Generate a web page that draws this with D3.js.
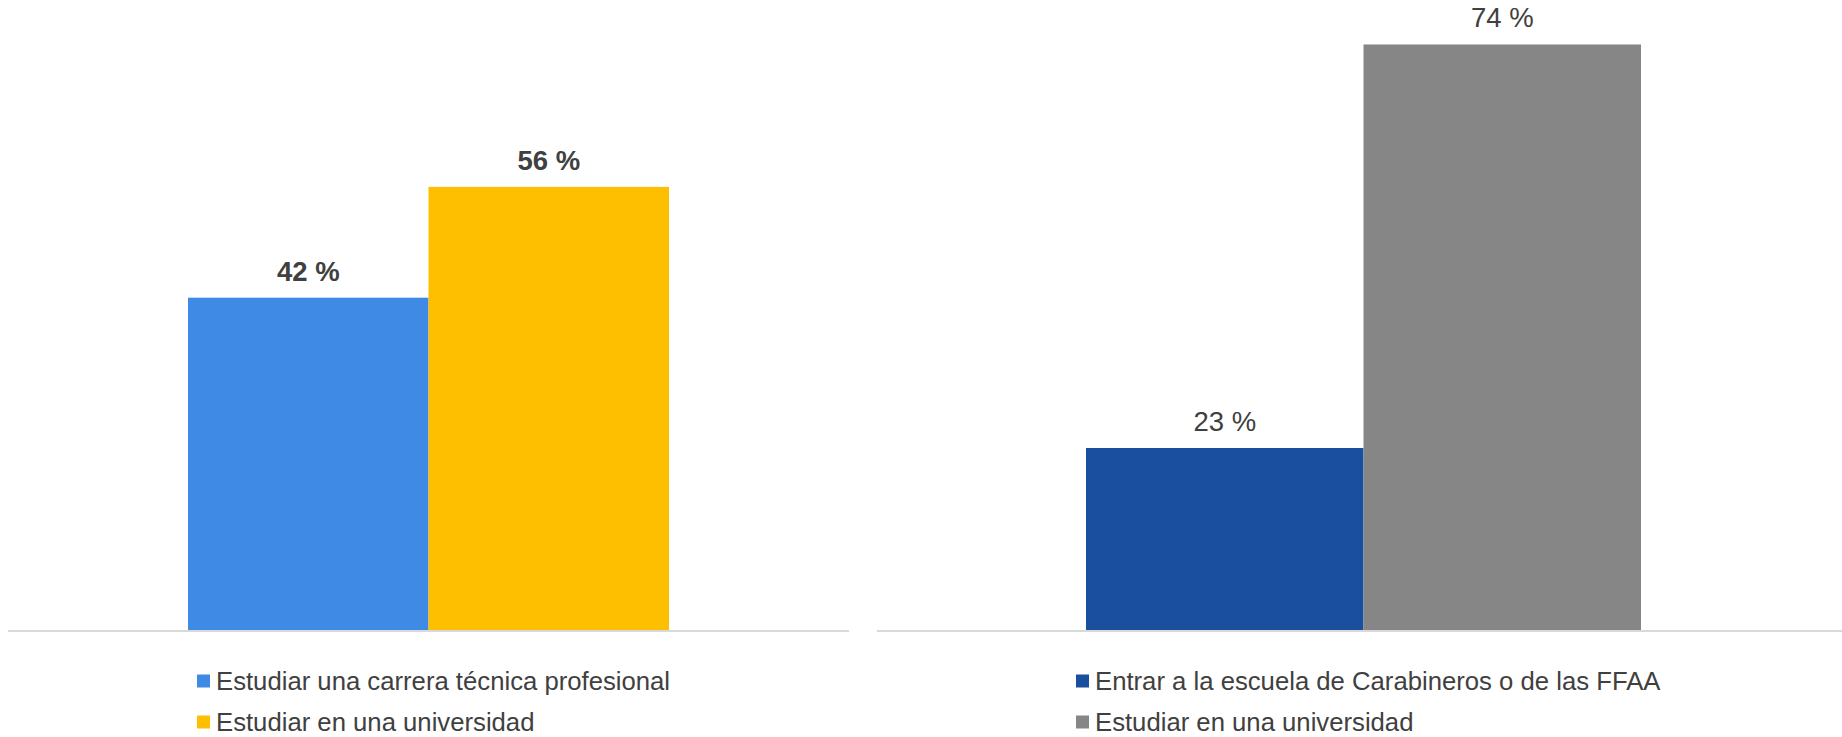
<!DOCTYPE html>
<html>
<head>
<meta charset="utf-8">
<script src="https://cdn.jsdelivr.net/npm/d3@7"></script>
<style>
  html, body { margin: 0; padding: 0; background: #fff; }
  svg { display: block; font-family: "Liberation Sans", Arial, sans-serif; }
</style>
</head>
<body>
<svg id="chart" width="1842" height="737"></svg>
<script>
// Left panel
const leftCategories = ["Estudiar una carrera técnica profesional", "Estudiar en una universidad"];
const leftValues = [42, 56];
const leftLabels = ["42 %", "56 %"];
const leftColors = ["#3F8AE5", "#FDBF00"];

// Right panel
const rightCategories = ["Entrar a la escuela de Carabineros o de las FFAA", "Estudiar en una universidad"];
const rightValues = [23, 74];
const rightLabels = ["23 %", "74 %"];
const rightColors = ["#1A4FA0", "#868686"];

const svg = d3.select("#chart");
const y = d3.scaleLinear().domain([0, 80]).range([630, -3]);

const panels = [
  { cats: leftCategories, vals: leftValues, labels: leftLabels, colors: leftColors,
    band: [188, 669], axis: [8, 849], bold: true, legendX: 197 },
  { cats: rightCategories, vals: rightValues, labels: rightLabels, colors: rightColors,
    band: [1086, 1641], axis: [877, 1842], bold: false, legendX: 1076 }
];

panels.forEach(p => {
  const g = svg.append("g");
  const x = d3.scaleBand().domain(p.cats).range(p.band).padding(0);

  g.append("line")
    .attr("x1", p.axis[0]).attr("x2", p.axis[1])
    .attr("y1", 631).attr("y2", 631)
    .attr("stroke", "#D9D9D9").attr("stroke-width", 2);

  g.selectAll("rect.bar").data(p.cats).join("rect")
    .attr("class", "bar")
    .attr("x", d => x(d))
    .attr("width", x.bandwidth())
    .attr("y", (d, i) => y(p.vals[i]))
    .attr("height", (d, i) => y(0) - y(p.vals[i]))
    .attr("fill", (d, i) => p.colors[i]);

  g.selectAll("text.val").data(p.cats).join("text")
    .attr("class", "val")
    .attr("x", d => x(d) + x.bandwidth() / 2)
    .attr("y", (d, i) => y(p.vals[i]) - 17)
    .attr("text-anchor", "middle")
    .attr("font-size", 27.5)
    .attr("font-weight", p.bold ? "bold" : "normal")
    .attr("fill", "#404040")
    .text((d, i) => p.labels[i]);

  const leg = g.selectAll("g.leg").data(p.cats).join("g")
    .attr("class", "leg")
    .attr("transform", (d, i) => `translate(${p.legendX},${681 + i * 41})`);
  leg.append("rect")
    .attr("x", 0).attr("y", -6.5).attr("width", 13).attr("height", 13)
    .attr("fill", (d, i) => p.colors[i]);
  leg.append("text")
    .attr("x", 19)
    .attr("dy", "0.35em")
    .attr("font-size", 25.7)
    .attr("fill", "#404040")
    .text(d => d);
});
</script>
</body>
</html>
